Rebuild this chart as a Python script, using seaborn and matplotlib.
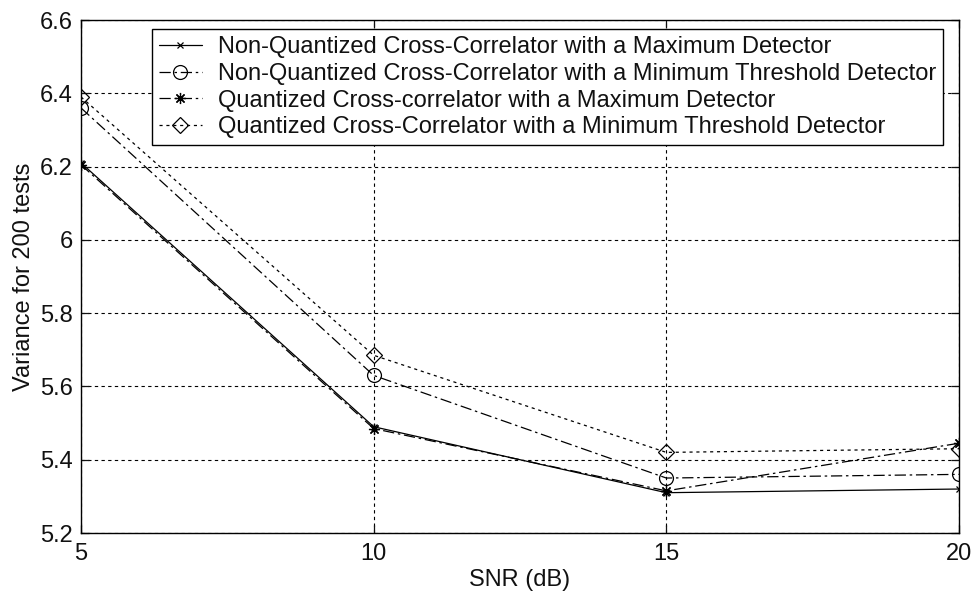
import matplotlib
matplotlib.use("Agg")
import matplotlib.pyplot as plt
import seaborn as sns
import pandas as pd

# SNR values (dB) and measured variance over 200 tests for each detector
snr = [5, 10, 15, 20]
nq_max = [6.21, 5.49, 5.31, 5.32]
nq_min_thr = [6.36, 5.63, 5.35, 5.36]
q_max = [6.205, 5.485, 5.315, 5.445]
q_min_thr = [6.39, 5.685, 5.42, 5.43]

labels = [
    "Non-Quantized Cross-Correlator with a Maximum Detector",
    "Non-Quantized Cross-Correlator with a Minimum Threshold Detector",
    "Quantized Cross-correlator with a Maximum Detector",
    "Quantized Cross-Correlator with a Minimum Threshold Detector",
]
series = [nq_max, nq_min_thr, q_max, q_min_thr]

xticks = [5, 10, 15, 20]
yticks = [5.2, 5.4, 5.6, 5.8, 6.0, 6.2, 6.4, 6.6]
ytick_labels = ["5.2", "5.4", "5.6", "5.8", "6", "6.2", "6.4", "6.6"]

sns.set_style("white")
plt.rcParams["font.family"] = ["Liberation Sans", "DejaVu Sans"]

fig = plt.figure(figsize=(9.75, 5.98), dpi=100)
ax = fig.add_axes([81 / 975, 1 - 533 / 598, (959 - 81) / 975, (533 - 20) / 598])

styles = [
    dict(linestyle="-", marker="x", markersize=5, markerfacecolor="black"),
    dict(linestyle=(0, (9, 3, 2, 3)), marker="o", markersize=10, markerfacecolor="none"),
    dict(linestyle=(0, (9, 3, 2, 3)), marker=(8, 2, 0), markersize=8, markerfacecolor="black"),
    dict(linestyle=(0, (2.5, 3)), marker="D", markersize=8, markerfacecolor="none"),
]

for lab, vals, st in zip(labels, series, styles):
    df = pd.DataFrame({"SNR": snr, "Variance": vals})
    sns.lineplot(data=df, x="SNR", y="Variance", ax=ax, color="black",
                 linewidth=0.9, markeredgecolor="black", markeredgewidth=0.9,
                 label=lab, **st)

ax.set_xlim(5, 20)
ax.set_ylim(5.2, 6.6)
ax.set_xticks(xticks)
ax.set_xticklabels([str(t) for t in xticks])
ax.set_yticks(yticks)
ax.set_yticklabels(ytick_labels)

ax.grid(True, color="black", linestyle=(0, (3, 3)), linewidth=0.8)
for s in ax.spines.values():
    s.set_visible(True)
    s.set_color("black")
    s.set_linewidth(1.0)

ax.tick_params(axis="both", which="both", direction="in", length=6, width=0.9,
               top=True, right=True, bottom=True, left=True,
               labelsize=17, colors="#111111")
ax.tick_params(axis="x", pad=7)
ax.tick_params(axis="y", pad=6)

ax.set_xlabel("SNR (dB)", fontsize=17, labelpad=3, color="#111111")
ax.set_ylabel("Variance for 200 tests", fontsize=17, labelpad=3, color="#111111")

leg = ax.legend(loc="upper left", bbox_to_anchor=((152 - 81) / 878, 1 - 9 / 513),
                fontsize=17, frameon=True, fancybox=False, framealpha=1,
                edgecolor="black", borderpad=0.3, labelspacing=0.2,
                handlelength=1.8, handletextpad=0.7, borderaxespad=0.0)
leg.get_frame().set_linewidth(1.0)
for t in leg.get_texts():
    t.set_color("#111111")

fig.savefig("out.png", dpi=100, facecolor="white")
